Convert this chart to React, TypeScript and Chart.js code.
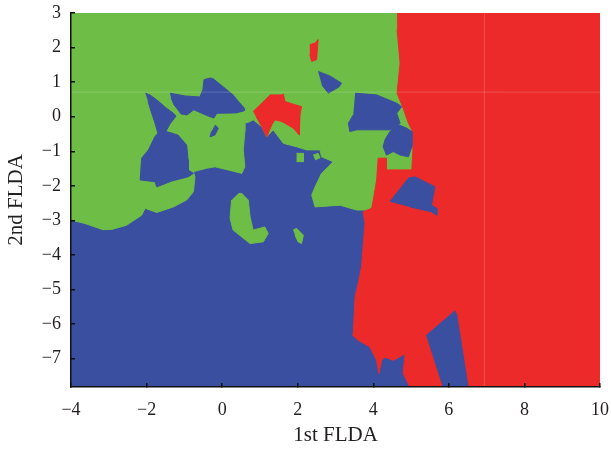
import { useEffect, useRef } from "react";
import { Chart, registerables } from "chart.js";

Chart.register(...registerables);

type P = [number, number];

// Axes
const X_RANGE: P = [-4, 10];
const Y_RANGE: P = [-7.82, 3];
const X_TICKS = [-4, -2, 0, 2, 4, 6, 8, 10];
const Y_TICKS = [-7, -6, -5, -4, -3, -2, -1, 0, 1, 2, 3];
const X_TITLE = "1st FLDA";
const Y_TITLE = "2nd FLDA";

// Class colours
const GREEN = "#6dbd46";
const RED = "#ec2a29";
const BLUE = "#3a4f9f";

// Decision regions (polygons in data coordinates)
const BASE_BLUE: P[] = [[-4, -7.82], [10, -7.82], [10, 3], [-4, 3]];

const GREEN_MAIN: P[] = [
  [-4, 3], [5.24, 3], [5.24, -1.69], [3.97, -2.67], [3.82, -2.7], [3.56, -2.7], [3.12, -2.56],
  [2.46, -2.61], [2.37, -2.27], [2.46, -2.03], [2.63, -1.64], [2.85, -1.4], [2.94, -1.3],
  [2.63, -1.16], [2.59, -0.96], [2.24, -0.96], [1.97, -0.87], [1.62, -0.77], [1.35, -0.38],
  [1.18, -0.58], [1.05, -0.29], [0.82, -0.09], [0.74, -0.14], [0.6, -0.19], [0.6, -0.43],
  [0.56, -0.96], [0.6, -1.45], [0.52, -1.64], [0.16, -1.54], [-0.19, -1.45], [-0.41, -1.49],
  [-0.76, -1.59], [-0.72, -1.74], [-0.76, -2.17], [-0.94, -2.41], [-1.29, -2.61], [-1.73, -2.77],
  [-2.04, -2.65], [-2.13, -2.85], [-2.53, -3.14], [-2.92, -3.26], [-3.15, -3.27], [-3.63, -3.09],
  [-4, -2.99],
];

const RED_MAIN: P[] = [
  [4.63, 3], [10, 3], [10, -7.82], [4.97, -7.82], [4.79, -7.43], [4.84, -6.86], [4.53, -7.05],
  [4.31, -6.95], [4.22, -7.05], [4.15, -7.43], [4.09, -7.05], [3.91, -6.66], [3.6, -6.47],
  [3.45, -6.32], [3.47, -6.28], [3.52, -5.21], [3.6, -4.83], [3.69, -4.34], [3.78, -3.09],
  [3.73, -2.75], [3.96, -2.65], [4.0, -2.41], [4.09, -1.83], [4.13, -1.2], [4.35, -1.2],
  [4.35, -1.54], [5.02, -1.54], [5.05, -0.96], [5.02, -0.38], [4.93, -0.19], [4.79, 0.25],
  [4.63, 0.68], [4.71, 1.55], [4.63, 2.52],
];

const BLUE_A: P[] = [
  [-2.03, 0.68], [-1.91, 0.63], [-1.7, 0.46], [-1.49, 0.26], [-1.3, 0.11], [-1.22, 0.02],
  [-1.38, -0.21], [-1.49, -0.43], [-1.35, -0.47], [-1.17, -0.53], [-0.94, -0.82], [-0.9, -1.25],
  [-0.9, -1.54], [-0.76, -1.64], [-0.9, -1.74], [-1.33, -1.86], [-1.73, -2.03], [-1.78, -1.88],
  [-2.17, -1.83], [-2.13, -1.2], [-1.95, -0.96], [-1.78, -0.58], [-1.7, -0.48], [-1.79, -0.14],
  [-1.88, 0.15], [-1.96, 0.44],
];

const BLUE_B: P[] = [
  [-1.38, 0.68], [-0.98, 0.6], [-0.59, 0.57], [-0.51, 0.78], [-0.48, 1.07], [-0.32, 1.12],
  [-0.24, 1.1], [0.0, 0.89], [0.29, 0.63], [0.37, 0.52], [0.6, 0.23], [0.58, 0.17], [0.37, 0.11],
  [-0.14, 0.1], [-0.22, -0.04], [-0.37, 0.02], [-0.75, 0.2], [-0.93, 0.05], [-1.09, 0.08],
  [-1.17, 0.2], [-1.27, 0.34], [-1.35, 0.54],
];

const BLUE_BLOB: P[] = [[-0.19, -0.24], [-0.1, -0.33], [-0.19, -0.53], [-0.32, -0.58], [-0.28, -0.43]];

const BLUE_TRI: P[] = [[2.54, 1.31], [2.85, 1.18], [3.16, 0.97], [3.09, 0.86], [2.81, 0.68], [2.64, 0.92]];

const BLUE_C1: P[] = [
  [3.52, 0.68], [4.09, 0.63], [4.62, 0.39], [4.75, 0.29], [4.62, 0.1], [4.71, -0.19], [4.44, -0.38],
  [4.18, -0.38], [3.56, -0.38], [3.38, -0.43], [3.34, -0.19], [3.47, 0.05],
];

const BLUE_C2: P[] = [
  [4.57, -0.19], [4.88, -0.33], [5.02, -0.43], [5.02, -0.87], [4.93, -1.16], [4.71, -1.11],
  [4.53, -1.01], [4.35, -1.11], [4.26, -0.87], [4.31, -0.67], [4.44, -0.43],
];

const BLUE_D: P[] = [
  [4.44, -2.46], [4.93, -1.78], [5.1, -1.74], [5.63, -2.03], [5.54, -2.56], [5.68, -2.65],
  [5.68, -2.85], [5.54, -2.75], [4.97, -2.61],
];

const BLUE_E: P[] = [[5.85, -7.82], [5.41, -6.32], [6.16, -5.62], [6.21, -5.74], [6.51, -7.82]];

const GREEN_G2: P[] = [
  [0.43, -2.22], [0.52, -2.22], [0.69, -2.41], [0.74, -2.9], [0.82, -3.28], [1.13, -3.19],
  [1.22, -3.38], [1.09, -3.62], [0.74, -3.67], [0.52, -3.48], [0.29, -3.28], [0.21, -2.94],
  [0.25, -2.41],
];
const GREEN_G3: P[] = [[1.88, -3.28], [1.97, -3.23], [2.15, -3.43], [2.1, -3.67], [2.01, -3.62], [1.93, -3.43]];
const GREEN_G4: P[] = [[1.97, -1.06], [2.15, -1.06], [2.15, -1.3], [1.97, -1.3]];
const GREEN_G5: P[] = [[2.41, -1.11], [2.54, -1.06], [2.59, -1.19], [2.46, -1.25]];

const RED_R1: P[] = [
  [0.82, 0.15], [1.05, 0.39], [1.27, 0.63], [1.35, 0.63], [1.58, 0.63], [1.62, 0.66], [1.66, 0.44],
  [1.8, 0.39], [2.1, 0.29], [2.06, 0.05], [2.04, -0.53], [1.88, -0.33], [1.58, -0.14], [1.4, -0.09],
  [1.31, -0.24], [1.18, -0.58], [1.05, -0.29], [0.9, 0.0],
];
const RED_R2: P[] = [[2.32, 2.08], [2.46, 2.13], [2.54, 2.23], [2.52, 1.94], [2.5, 1.65], [2.37, 1.6], [2.32, 1.79]];

// Faint artefact lines visible in the picture
const FAINT_H: P[] = [[-4, 0.71], [10, 0.71]];
const FAINT_V: P[] = [[6.94, -7.82], [6.94, 3]];

const FONT = "'Liberation Serif', 'DejaVu Serif', serif";
const TEXT = "#231f20";

const toXY = (pts: P[]) => pts.map(([x, y]) => ({ x, y }));

function polygon(label: string, pts: P[], color: string) {
  return {
    label,
    data: toXY(pts),
    showLine: true,
    fill: "shape",
    backgroundColor: color,
    borderColor: color,
    borderWidth: 1,
    pointRadius: 0,
    pointHoverRadius: 0,
    pointHitRadius: 0,
    tension: 0,
  };
}

function faint(label: string, pts: P[]) {
  return {
    label,
    data: toXY(pts),
    showLine: true,
    fill: false,
    borderColor: "rgba(255,255,255,0.18)",
    borderWidth: 1,
    pointRadius: 0,
    pointHitRadius: 0,
  };
}

const fmt = (v: number | string) => {
  const n = Number(v);
  return n < 0 ? "\u2212" + Math.abs(n) : String(n);
};

export default function App() {
  const ref = useRef<HTMLCanvasElement | null>(null);

  useEffect(() => {
    if (!ref.current) return;
    const layers = [
      polygon("blue", BASE_BLUE, BLUE),
      polygon("green", GREEN_MAIN, GREEN),
      polygon("red", RED_MAIN, RED),
      polygon("blueA", BLUE_A, BLUE),
      polygon("blueB", BLUE_B, BLUE),
      polygon("blueBlob", BLUE_BLOB, BLUE),
      polygon("blueTri", BLUE_TRI, BLUE),
      polygon("blueC1", BLUE_C1, BLUE),
      polygon("blueC2", BLUE_C2, BLUE),
      polygon("blueD", BLUE_D, BLUE),
      polygon("blueE", BLUE_E, BLUE),
      polygon("greenG2", GREEN_G2, GREEN),
      polygon("greenG3", GREEN_G3, GREEN),
      polygon("greenG4", GREEN_G4, GREEN),
      polygon("greenG5", GREEN_G5, GREEN),
      polygon("redR1", RED_R1, RED),
      polygon("redR2", RED_R2, RED),
      faint("h", FAINT_H),
      faint("v", FAINT_V),
    ].map((d, i) => ({ ...d, order: -i }));

    const chart = new Chart(ref.current, {
      type: "scatter",
      data: { datasets: layers as any },
      options: {
        animation: false,
        responsive: true,
        maintainAspectRatio: false,
        events: [],
        layout: { padding: 0 },
        plugins: { legend: { display: false }, tooltip: { enabled: false } },
        scales: {
          x: {
            type: "linear",
            position: "bottom",
            min: X_RANGE[0],
            max: X_RANGE[1],
            afterBuildTicks: (s: any) => {
              s.ticks = X_TICKS.map((v) => ({ value: v }));
            },
            afterFit: (s: any) => {
              s.height = 64;
              s.paddingLeft = 0;
              s.paddingRight = 11;
            },
            grid: {
              display: true,
              drawOnChartArea: false,
              drawTicks: true,
              tickLength: -4,
              color: "#111",
              lineWidth: 1.5,
              z: 1,
            },
            border: { display: true, color: "#111", width: 1.5, z: 1 },
            ticks: {
              padding: 16,
              color: TEXT,
              font: { family: FONT, size: 18 },
              maxRotation: 0,
              autoSkip: false,
              callback: (v: any) => fmt(v),
            },
            title: {
              display: true,
              text: X_TITLE,
              color: TEXT,
              font: { family: FONT, size: 21, lineHeight: 1.2 },
              padding: { top: 0, bottom: 3 },
            },
          },
          y: {
            type: "linear",
            position: "left",
            min: Y_RANGE[0],
            max: Y_RANGE[1],
            afterBuildTicks: (s: any) => {
              s.ticks = Y_TICKS.map((v) => ({ value: v }));
            },
            afterFit: (s: any) => {
              s.width = 71;
              s.paddingTop = 13;
              s.paddingBottom = 0;
            },
            grid: {
              display: true,
              drawOnChartArea: false,
              drawTicks: true,
              tickLength: -4,
              color: "#111",
              lineWidth: 1.5,
              z: 1,
            },
            border: { display: true, color: "#111", width: 1.5, z: 1 },
            ticks: {
              padding: 14,
              color: TEXT,
              font: { family: FONT, size: 18 },
              autoSkip: false,
              callback: (v: any) => fmt(v),
            },
            title: {
              display: true,
              text: Y_TITLE,
              color: TEXT,
              font: { family: FONT, size: 21, lineHeight: 1.2 },
              padding: { top: 4, bottom: 0 },
            },
          },
        },
      } as any,
    });
    return () => chart.destroy();
  }, []);

  return (
    <div style={{ position: "absolute", left: 0, top: 0, width: 611, height: 451, background: "#fff" }}>
      <canvas ref={ref} />
    </div>
  );
}
